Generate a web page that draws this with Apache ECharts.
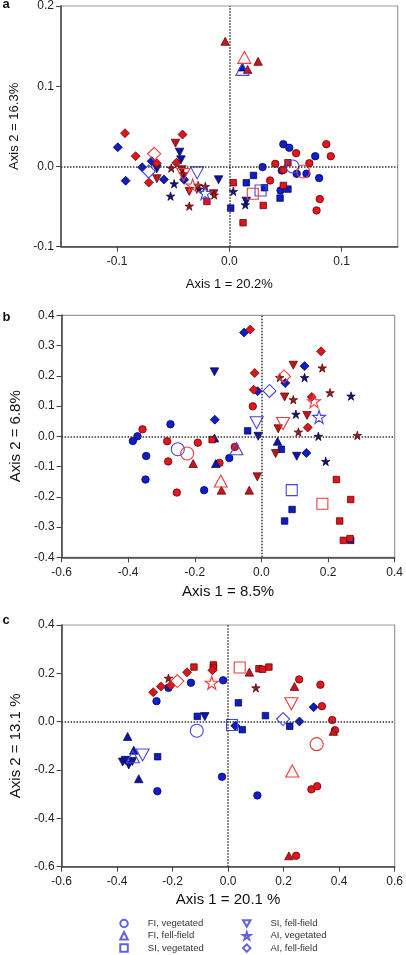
<!DOCTYPE html>
<html><head><meta charset="utf-8">
<script src="https://cdn.jsdelivr.net/npm/echarts@6/dist/echarts.min.js"></script>
<style>html,body{margin:0;padding:0;background:#fff}#c{width:406px;height:955px}</style>
</head><body><div id="c"></div>
<script>
// ---------- DATA ----------
// group order: FI vegetated (circle), FI fell-field (triangle), SI vegetated (square),
//              SI fell-field (inverted triangle), AI vegetated (star), AI fell-field (diamond)
const groupNames = ['FI, vegetated','FI, fell-field','SI, vegetated','SI, fell-field','AI, vegetated','AI, fell-field'];

// Panel a
const aBlueFIveg  = [[0.0296,-0.0008],[0.0467,-0.005],[0.0456,-0.0299],[0.0481,0.0278],[0.0534,0.0233],[0.06,-0.0091],[0.0687,-0.0091],[0.0765,0.0128],[0.08,-0.0145]];
const aRedFIveg   = [[0.0409,0.0033],[0.0481,-0.0041],[0.0363,-0.0174],[0.0595,0.0166],[0.0713,0.0041],[0.0864,0.0278],[0.0904,0.0128],[0.0806,-0.0407],[0.0777,-0.0548]];
const aBlueFIfell = [[0.0116,0.124]];
const aRedFIfell  = [[-0.0037,0.156],[0.0163,0.121],[0.0256,0.131]];
const aBlueSIveg  = [[0.0012,-0.0519],[0.0151,-0.0203],[0.0215,-0.0112],[0.0313,-0.0265],[0.0522,-0.0282],[0.0452,-0.0394]];
const aRedSIveg   = [[0.0035,-0.0203],[0.0122,-0.0701],[0.0302,-0.0486],[0.0522,0.0046],[0.0481,-0.0237],[-0.02,-0.0436]];
const aBlueSIfell = [[-0.0646,-0.003],[-0.0443,0.0178],[-0.0431,0.0083],[-0.0096,-0.0166],[0.0151,-0.0432]];
const aRedSIfell  = [[-0.0646,-0.0153],[-0.048,0.029],[-0.0423,-0.0041],[-0.0357,-0.0311],[-0.014,-0.034]];
const aBlueAIveg  = [[-0.0492,-0.0216],[-0.0524,-0.037],[-0.0272,-0.0282],[0.0035,-0.0311],[0.0142,-0.0477]];
const aRedAIveg   = [[-0.0518,-0.002],[-0.0409,-0.0091],[-0.0357,-0.0494],[-0.0278,-0.0237],[-0.0214,-0.0249],[-0.0135,-0.0355]];
const aBlueAIfell = [[-0.0994,0.024],[-0.0777,-0.001],[-0.0692,0.0066],[-0.0924,-0.0178],[-0.0583,-0.0162],[-0.0403,-0.0166]];
const aRedAIfell  = [[-0.093,0.0415],[-0.0835,0.0128],[-0.0646,0.0041],[-0.0718,-0.02],[-0.0417,0.0398],[-0.0472,0.0046]];
const aCentroidBlue = [[0.0563,0],[0.0116,0.121],[0.0278,-0.0299],[-0.0287,-0.008],[-0.0217,-0.0332],[-0.0718,-0.0062]];
const aCentroidRed  = [[0.0658,-0.0062],[0.0134,0.136],[0.0209,-0.034],[-0.0409,-0.01],[-0.0327,-0.0237],[-0.067,0.0158]];

// Panel b
const bBlueFIveg  = [[-0.273,0.04],[-0.372,0],[-0.386,-0.0155],[-0.346,-0.065],[-0.0965,-0.072],[-0.348,-0.143],[-0.172,-0.178]];
const bRedFIveg   = [[-0.026,0.099],[-0.357,0.023],[-0.283,-0.0165],[-0.191,-0.021],[-0.08,-0.035],[-0.28,-0.083],[-0.126,-0.088],[-0.254,-0.186]];
const bBlueFIfell = [[0.0484,-0.0165],[-0.141,-0.0055],[-0.137,-0.09]];
const bRedFIfell  = [[-0.205,-0.09],[-0.12,-0.178],[-0.0365,-0.178]];
const bBlueSIveg  = [[-0.0414,0.018],[0.06,-0.043],[0.092,-0.242],[0.0696,-0.28],[0.268,-0.344]];
const bRedSIveg   = [[-0.148,-0.011],[0.225,-0.143],[0.268,-0.209],[0.235,-0.28],[0.246,-0.344],[0.266,-0.338]];
const bBlueSIfell = [[-0.141,0.213],[-0.0096,0],[0.106,-0.066]];
const bRedSIfell  = [[0.0957,0.235],[0.0696,0.13],[0.137,0.069],[0.0504,0.025],[0.0426,-0.057],[-0.0125,-0.134]];
const bBlueAIveg  = [[0.1296,0.194],[0.269,0.133],[0.1035,0.073],[0.171,0],[0.193,-0.083]];
const bRedAIveg   = [[0.1826,0.226],[0.055,0.194],[0.0957,0.121],[0.206,0.144],[0.111,0.014],[0.288,0.003]];
const bBlueAIfell = [[-0.052,0.343],[0.1296,0.232],[0.0716,0.176],[-0.0116,0.149],[-0.14,0.055],[0.135,-0.055]];
const bRedAIfell  = [[-0.0336,0.353],[0.179,0.281],[-0.0203,0.209],[-0.0232,0.154],[0.151,0.13],[0.139,0.029]];
const bCentroidBlue = [[-0.251,-0.043],[-0.075,-0.041],[0.091,-0.178],[-0.0145,0.045],[0.173,0.064],[0.0243,0.15]];
const bCentroidRed  = [[-0.223,-0.057],[-0.122,-0.148],[0.183,-0.223],[0.065,0.042],[0.158,0.116],[0.0678,0.198]];

// Panel c
const cBlueFIveg  = [[-0.215,0.14],[-0.134,0.161],[-0.258,0.085],[-0.018,0.171],[-0.255,-0.2875],[-0.022,-0.228],[0.1055,-0.305]];
const cRedFIveg   = [[0.256,0.175],[0.3325,0.153],[0.338,0.064],[0.375,0.007],[0.385,-0.035],[0.30,-0.28],[0.321,-0.267],[0.245,-0.555]];
const cBlueFIfell = [[-0.362,-0.061],[-0.34,-0.118],[-0.322,-0.236]];
const cRedFIfell  = [[0.0764,0.205],[0.239,0.146],[0.379,-0.04],[0.219,-0.555]];
const cBlueSIveg  = [[0.037,0.078],[-0.111,0.022],[0.051,-0.033],[0.1345,0.025],[0.222,-0.019],[-0.254,-0.145]];
const cRedSIveg   = [[-0.123,0.226],[-0.053,0.235],[-0.053,0.224],[0.111,0.219],[0.124,0.217],[0.147,0.226]];
const cBlueSIfell = [[-0.084,0.021],[-0.38,-0.167],[-0.37,-0.16],[-0.358,-0.179],[-0.345,-0.165]];
const cRedSIfell  = [];
const cBlueAIveg  = [];
const cRedAIveg   = [[-0.215,0.18],[0.1,0.14]];
const cBlueAIfell = [[0.0257,-0.017],[0.257,0.001],[0.308,0.06]];
const cRedAIfell  = [[-0.27,0.122],[-0.242,0.146],[-0.207,0.15],[-0.148,0.204],[-0.0566,0.2125]];
const cCentroidBlue = [[-0.113,-0.0375],[-0.343,-0.145],[0.014,-0.014],[-0.308,-0.1375],null,[0.198,0.011]];
const cCentroidRed  = [[0.319,-0.093],[0.231,-0.204],[0.0417,0.224],[0.228,0.074],[-0.059,0.161],[-0.183,0.168]];

// Axis settings
const panelLetters = ['a','b','c'];
const xNames = ['Axis 1 = 20.2%','Axis 1 = 8.5%','Axis 1 = 20.1 %'];
const yNames = ['Axis 2 = 16.3%','Axis 2 = 6.8%','Axis 2 = 13.1 %'];
const xRange = [[-0.15,0.15],[-0.6,0.4],[-0.6,0.6]];
const xTicks = [[-0.1,0,0.1],[-0.6,-0.4,-0.2,0,0.2,0.4],[-0.6,-0.4,-0.2,0,0.2,0.4,0.6]];
const yRange = [[-0.1,0.2],[-0.4,0.4],[-0.6,0.4]];
const yTicks = [[-0.1,0,0.1,0.2],[-0.4,-0.3,-0.2,-0.1,0,0.1,0.2,0.3,0.4],[-0.6,-0.4,-0.2,0,0.2,0.4]];

// ---------- STYLE ----------
const FONT = 'Liberation Sans, Arial, sans-serif';
const STAR = 'path://M50,2 L60.76,35.19 L95.65,35.17 L67.41,55.66 L78.21,88.83 L50,68.3 L21.79,88.83 L32.59,55.66 L4.35,35.17 L39.24,35.19 Z';
const DOWN = 'path://M0,0 L10,0 L5,8.66 Z';
const shapes = ['circle','triangle','rect',DOWN,STAR,'diamond'];
const filledSize = [7.5,[8.5,8],6.5,[8.5,8],8.5,9];
const openSize = [13,[13,12],11,[13,12],13,13];
const redFill  = ['#e8141c','#c8141c','#e0141c','#c0141c','#9c1a1a','#e0141c'];
const blueFill = ['#0c1ed2','#0a14b4','#0a1ec8','#0a14a8','#16166e','#0a1ec8'];
const RED_BORDER = '#4a0000', BLUE_BORDER = '#00003c';
const RED_OPEN = '#f03c3c', BLUE_OPEN = '#4646e0';

const grids = [
  {left:52.7, top:5.5, width:345, height:241.2},
  {left:52.3, top:315.3, width:345.4, height:242},
  {left:52.2, top:625, width:345.5, height:241.7}
];
const nameSize = [13,15,15];
const xNameGap = [31,27,26];
const yNameGap = [40,38,38];

const fmt = v => (Math.abs(v) < 1e-9 ? 0 : v).toFixed(1);

const xAxes = [], yAxes = [], series = [], graphics = [];
const panels = [
  {blue:[aBlueFIveg,aBlueFIfell,aBlueSIveg,aBlueSIfell,aBlueAIveg,aBlueAIfell], red:[aRedFIveg,aRedFIfell,aRedSIveg,aRedSIfell,aRedAIveg,aRedAIfell], cb:aCentroidBlue, cr:aCentroidRed},
  {blue:[bBlueFIveg,bBlueFIfell,bBlueSIveg,bBlueSIfell,bBlueAIveg,bBlueAIfell], red:[bRedFIveg,bRedFIfell,bRedSIveg,bRedSIfell,bRedAIveg,bRedAIfell], cb:bCentroidBlue, cr:bCentroidRed},
  {blue:[cBlueFIveg,cBlueFIfell,cBlueSIveg,cBlueSIfell,cBlueAIveg,cBlueAIfell], red:[cRedFIveg,cRedFIfell,cRedSIveg,cRedSIfell,cRedAIveg,cRedAIfell], cb:cCentroidBlue, cr:cCentroidRed}
];

panels.forEach((p, i) => {
  xAxes.push({
    gridIndex:i, type:'value', min:xRange[i][0], max:xRange[i][1],
    name:xNames[i], nameLocation:'middle', nameGap:xNameGap[i],
    nameTextStyle:{fontFamily:FONT, fontSize:nameSize[i], color:'#111'},
    splitLine:{show:false},
    axisLine:{onZero:false, lineStyle:{color:'#444', width:1.5}},
    axisTick:{show:true, length:5, lineStyle:{color:'#444'}, customValues:xTicks[i]},
    axisLabel:{fontFamily:FONT, fontSize:12, color:'#222', margin:9, formatter:fmt, customValues:xTicks[i], showMinLabel:true, showMaxLabel:true}
  });
  yAxes.push({
    gridIndex:i, type:'value', min:yRange[i][0], max:yRange[i][1],
    name:yNames[i], nameLocation:'middle', nameGap:yNameGap[i],
    nameTextStyle:{fontFamily:FONT, fontSize:nameSize[i], color:'#111'},
    splitLine:{show:false},
    axisLine:{onZero:false, lineStyle:{color:'#444', width:1.5}},
    axisTick:{show:true, length:5, lineStyle:{color:'#444'}, customValues:yTicks[i]},
    axisLabel:{fontFamily:FONT, fontSize:12, color:'#222', margin:7, formatter:fmt, customValues:yTicks[i], showMinLabel:true, showMaxLabel:true}
  });
  // zero reference lines
  series.push({
    type:'scatter', name:'zero'+i, xAxisIndex:i, yAxisIndex:i, data:[], z:1, silent:true,
    markLine:{silent:true, symbol:'none', animation:false, label:{show:false},
      lineStyle:{type:'dotted', color:'#333', width:1.5},
      emphasis:{disabled:true},
      data:[{xAxis:0},{yAxis:0}]}
  });
  for (let g = 0; g < 6; g++) {
    series.push({type:'scatter', name:panelLetters[i]+'-blue-'+g, xAxisIndex:i, yAxisIndex:i,
      data:p.blue[g], symbol:shapes[g], symbolSize:filledSize[g], z:3,
      itemStyle:{color:blueFill[g], borderColor:BLUE_BORDER, borderWidth:0.7, opacity:1}});
    series.push({type:'scatter', name:panelLetters[i]+'-red-'+g, xAxisIndex:i, yAxisIndex:i,
      data:p.red[g], symbol:shapes[g], symbolSize:filledSize[g], z:3,
      itemStyle:{color:redFill[g], borderColor:RED_BORDER, borderWidth:0.7, opacity:1}});
    if (p.cb[g]) series.push({type:'scatter', name:panelLetters[i]+'-cblue-'+g, xAxisIndex:i, yAxisIndex:i,
      data:[p.cb[g]], symbol:shapes[g], symbolSize:openSize[g], z:4,
      itemStyle:{color:'rgba(255,255,255,0)', borderColor:BLUE_OPEN, borderWidth:1.1, opacity:1}});
    if (p.cr[g]) series.push({type:'scatter', name:panelLetters[i]+'-cred-'+g, xAxisIndex:i, yAxisIndex:i,
      data:[p.cr[g]], symbol:shapes[g], symbolSize:openSize[g], z:4,
      itemStyle:{color:'rgba(255,255,255,0)', borderColor:RED_OPEN, borderWidth:1.1, opacity:1}});
  }
});

// legend-only series
groupNames.forEach((n, g) => {
  series.push({type:'scatter', name:n, xAxisIndex:2, yAxisIndex:2, data:[], symbol:shapes[g], symbolKeepAspect:true,
    itemStyle:{color:'rgba(255,255,255,0)', borderColor:'#3a3ad6', borderWidth:1}});
});

const letterTops = [-1.7, 311, 614.3];
panelLetters.forEach((l, i) => graphics.push({type:'text', left:2.5, top:letterTops[i],
  style:{text:l, font:'bold 13px ' + FONT, fill:'#111'}}));

const legendCommon = {orient:'vertical', top:917.5, padding:0, itemWidth:7.5, itemHeight:7.5, itemGap:0.3,
  selectedMode:false,
  textStyle:{fontFamily:FONT, fontSize:9.5, color:'#333', lineHeight:12, padding:[0,0,0,15]}};

const option = {
  animation:false,
  backgroundColor:'#fff',
  grid: grids.map(g => Object.assign({show:true, borderColor:'#999', borderWidth:1.2, backgroundColor:'transparent', containLabel:false}, g)),
  xAxis:xAxes, yAxis:yAxes, series, graphic:graphics,
  legend:[
    Object.assign({left:119.3, data:groupNames.slice(0,3)}, legendCommon),
    Object.assign({left:242, data:groupNames.slice(3,6)}, legendCommon)
  ]
};
const chart = echarts.init(document.getElementById('c'), null, {renderer:'canvas'});
chart.setOption(option);
</script></body></html>
